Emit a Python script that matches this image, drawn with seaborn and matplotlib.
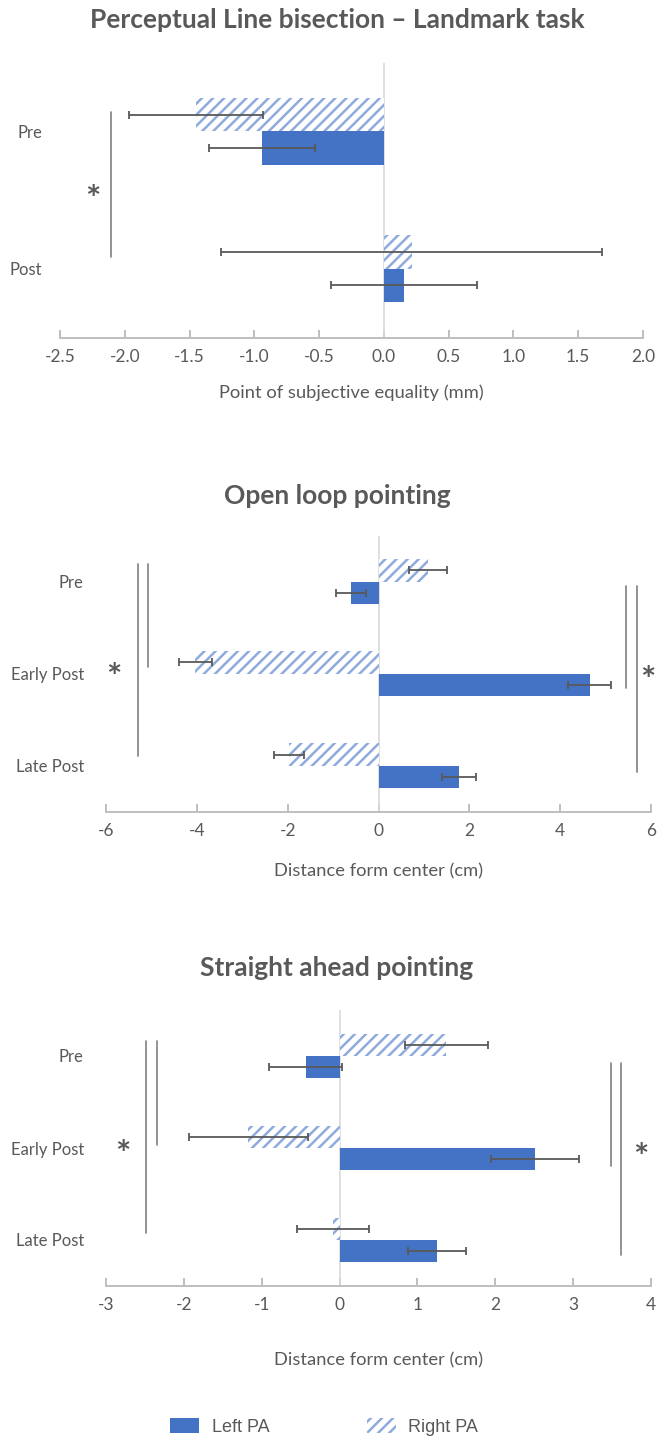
import matplotlib
matplotlib.use("Agg")
import matplotlib.pyplot as plt
import matplotlib.patches as mpatches
from matplotlib.ticker import FixedLocator, FuncFormatter
import numpy as np
import pandas as pd
import seaborn as sns

sns.set_theme(style="white")
plt.rcParams["font.family"] = ["Lato", "DejaVu Sans"]
plt.rcParams["axes.unicode_minus"] = False
plt.rcParams["hatch.linewidth"] = 1.8

# ---- data ----------------------------------------------------------------
series = ["Left PA", "Right PA"]

# Perceptual line bisection (landmark task)
pls_phases = ["Pre", "Post"]
pls_left = [-0.94, 0.155]
pls_left_err = [0.41, 0.56]
pls_right = [-1.45, 0.215]
pls_right_err = [0.52, 1.47]

# Open loop pointing
olp_phases = ["Pre", "Early Post", "Late Post"]
olp_left = [-0.60, 4.65, 1.77]
olp_left_err = [0.33, 0.47, 0.38]
olp_right = [1.09, -4.03, -1.97]
olp_right_err = [0.42, 0.36, 0.34]

# Straight ahead pointing
sap_phases = ["Pre", "Early Post", "Late Post"]
sap_left = [-0.435, 2.51, 1.25]
sap_left_err = [0.47, 0.57, 0.37]
sap_right = [1.37, -1.17, -0.086]
sap_right_err = [0.53, 0.76, 0.46]

# ---- styling -------------------------------------------------------------
BLUE = "#4472C4"
HATCH_BLUE = "#8FAADC"
TEXT = "#595959"
AXIS = "#BFBFBF"
ERR = "#595959"
BRACKET = "#808080"
TITLE_SIZE = 19
TICK_SIZE = 12.5
LABEL_SIZE = 13.2

W, H = 657, 1442
fig = plt.figure(figsize=(W / 100, H / 100), dpi=100)


def px_axes(left, top, right, bottom):
    return fig.add_axes([left / W, 1 - bottom / H, (right - left) / W, (bottom - top) / H])


def draw_panel(ax, phases, left, left_err, right, right_err, xlim, ticks, fmt,
               xlabel, ylabel_pad, xlabel_dist):
    df = pd.DataFrame({
        "phase": phases * 2,
        "series": ["Right PA"] * len(phases) + ["Left PA"] * len(phases),
        "value": list(right) + list(left),
    })
    errs = {"Right PA": right_err, "Left PA": left_err}
    hue_order = ["Right PA", "Left PA"]
    sns.barplot(data=df, y="phase", x="value", hue="series", order=phases,
                hue_order=hue_order, palette={"Right PA": "white", "Left PA": BLUE},
                orient="h", width=0.485, saturation=1, errorbar=None,
                legend=False, ax=ax, zorder=2)
    for name, cont in zip(hue_order, ax.containers):
        for patch in cont.patches:
            patch.set_linewidth(0)
            if name == "Right PA":
                patch.set_facecolor("white")
                patch.set_edgecolor(HATCH_BLUE)
                patch.set_hatch("///")
            yc = patch.get_y() + patch.get_height() / 2
            idx = int(round(yc))
            x0, x1 = patch.get_x(), patch.get_x() + patch.get_width()
            val = x0 if abs(x0) > abs(x1) else x1
            ax.errorbar(val, yc, xerr=errs[name][idx], fmt="none", ecolor=ERR,
                        elinewidth=1.3, capsize=3.2, capthick=1.3, zorder=4)

    n = len(phases)
    ax.set_ylim(n - 0.5, -0.5)
    ax.set_xlim(*xlim)
    ax.axvline(0, color="#D9D9D9", lw=1.2, zorder=1)
    for s in ["top", "right", "left"]:
        ax.spines[s].set_visible(False)
    ax.spines["bottom"].set_color(AXIS)
    ax.spines["bottom"].set_linewidth(1.4)
    ax.xaxis.set_major_locator(FixedLocator(ticks))
    ax.xaxis.set_major_formatter(FuncFormatter(fmt))
    ax.tick_params(axis="x", direction="in", length=6, width=1.4, color=AXIS,
                   labelsize=TICK_SIZE, labelcolor=TEXT, pad=8, bottom=True)
    ax.tick_params(axis="y", length=0, labelsize=12, labelcolor=TEXT, pad=ylabel_pad)
    ax.set_ylabel("")
    ax.set_xlabel(xlabel, fontsize=LABEL_SIZE, color=TEXT)
    ax.xaxis.label.set_va("center")
    hpx = ax.get_position().height * H
    ax.xaxis.set_label_coords(0.5, -xlabel_dist / hpx)
    ax.grid(False)


def bracket(ax, x, y0, y1):
    ax.plot([x, x], [y0, y1], color=BRACKET, lw=1.2, clip_on=False, zorder=3)


def star(ax, x, y):
    ax.text(x, y, "*", fontsize=26, fontweight="bold", color=TEXT,
            ha="center", va="center", clip_on=False)


def title(y_px, text):
    fig.text(337 / W, 1 - y_px / H, text, ha="center", va="center",
             fontsize=TITLE_SIZE, fontweight="bold", color=TEXT)


# ---- panel 1 -------------------------------------------------------------
ax1 = px_axes(60, 62.5, 643, 337.5)
draw_panel(ax1, pls_phases, pls_left, pls_left_err, pls_right, pls_right_err,
           (-2.5, 2.0), np.arange(-2.5, 2.01, 0.5), lambda v, p: f"{v:.1f}",
           "Point of subjective equality (mm)", 13, 55)
bracket(ax1, -2.108, -0.142, 0.913)
star(ax1, -2.25, 0.5)
title(20, "Perceptual Line bisection \u2013 Landmark task")

# ---- panel 2 -------------------------------------------------------------
ax2 = px_axes(106, 535.6, 651, 811.7)
draw_panel(ax2, olp_phases, olp_left, olp_left_err, olp_right, olp_right_err,
           (-6, 6), np.arange(-6, 6.1, 2), lambda v, p: f"{v:.0f}",
           "Distance form center (cm)", 16, 60)
bracket(ax2, -5.29, -0.19, 1.89)
bracket(ax2, -5.08, -0.19, 0.93)
bracket(ax2, 5.45, 0.043, 1.16)
bracket(ax2, 5.69, 0.043, 2.07)
star(ax2, -5.82, 1.05)
star(ax2, 5.93, 1.08)
title(496, "Open loop pointing")

# ---- panel 3 -------------------------------------------------------------
ax3 = px_axes(106, 1010, 651, 1286)
draw_panel(ax3, sap_phases, sap_left, sap_left_err, sap_right, sap_right_err,
           (-3, 4), np.arange(-3, 4.1, 1), lambda v, p: f"{v:.0f}",
           "Distance form center (cm)", 16, 74)
bracket(ax3, -2.48, -0.163, 1.92)
bracket(ax3, -2.35, -0.163, 0.967)
bracket(ax3, 3.49, 0.076, 1.20)
bracket(ax3, 3.61, 0.076, 2.16)
star(ax3, -2.78, 1.08)
star(ax3, 3.87, 1.11)
title(968, "Straight ahead pointing")

# ---- legend --------------------------------------------------------------
handles = [
    mpatches.Patch(facecolor=BLUE, edgecolor=BLUE, linewidth=0, label=series[0]),
    mpatches.Patch(facecolor="white", edgecolor=HATCH_BLUE, linewidth=0,
                   hatch="///", label=series[1]),
]
leg = fig.legend(handles=handles, loc="center", ncol=2,
                 bbox_to_anchor=(324 / W, 1 - 1427 / H), frameon=False,
                 prop={"family": "Liberation Sans", "size": 13},
                 handlelength=1.6, handleheight=0.9, handletextpad=0.7,
                 columnspacing=5.4)
for t in leg.get_texts():
    t.set_color(TEXT)

fig.savefig("out.png", dpi=100, facecolor="white")
